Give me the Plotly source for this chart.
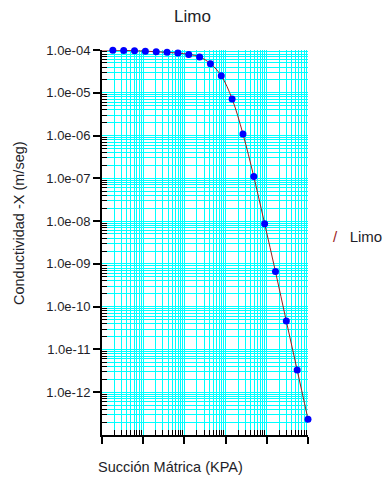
import plotly.graph_objects as go

# Data (suction in kPa, conductivity in m/s)
suction = [0.01, 0.01833, 0.0336, 0.06158, 0.1129, 0.2069, 0.3793, 0.6952,
           1.274, 2.336, 4.281, 7.848, 14.38, 26.37, 48.33, 88.59, 162.4,
           297.6, 545.6, 1000.0]
conductivity = [1.0e-4, 9.9e-5, 9.8e-5, 9.6e-5, 9.4e-5, 9.1e-5, 8.8e-5, 8.5e-5,
                7.9e-5, 6.9e-5, 4.8e-5, 2.5e-5, 7.2e-6, 1.09e-6, 1.10e-7,
                8.7e-9, 6.6e-10, 4.6e-11, 3.3e-12, 2.35e-13]
y_tick_vals = [1e-12, 1e-11, 1e-10, 1e-9, 1e-8, 1e-7, 1e-6, 1e-5, 1e-4]
y_tick_labels = ["1.0e-12", "1.0e-11", "1.0e-10", "1.0e-09", "1.0e-08",
                 "1.0e-07", "1.0e-06", "1.0e-05", "1.0e-04"]
x_tick_vals = [0.01, 0.1, 1, 10, 100, 1000]
series_name = "Limo"

FONT = "Liberation Sans, Arial, sans-serif"
GRID = "#00FFFF"
TXT = "#1e1e28"

x_minor = [m * 10 ** d for d in range(-2, 3) for m in range(2, 10)]
y_minor = [m * 10 ** d for d in range(-13, -4) for m in range(2, 10)]

fig = go.Figure()
fig.add_trace(go.Scatter(
    x=suction, y=conductivity, mode="lines+markers",
    line=dict(color="#9b1c1c", width=1, shape="spline"),
    marker=dict(color="#0000FF", size=7),
    cliponaxis=False, showlegend=False, name=series_name,
))

axis_common = dict(
    showline=True, linecolor="black", linewidth=2, mirror=False,
    ticks="outside", ticklen=7, tickwidth=2, tickcolor="black",
    showgrid=True, gridcolor=GRID, gridwidth=1, zeroline=False,
)

fig.update_xaxes(
    type="log", range=[-2, 3], tickmode="array", tickvals=x_tick_vals,
    showticklabels=False,
    minor=dict(tickmode="array", tickvals=x_minor, ticks="inside", ticklen=5,
               tickwidth=1, tickcolor="black", showgrid=True, gridcolor=GRID,
               gridwidth=1),
    **axis_common,
)
fig.update_yaxes(
    type="log", range=[-13, -4], tickmode="array", tickvals=y_tick_vals,
    ticktext=y_tick_labels, tickfont=dict(family=FONT, size=13, color=TXT),
    minor=dict(tickmode="array", tickvals=y_minor, ticks="inside", ticklen=5,
               tickwidth=1, tickcolor="black", showgrid=True, gridcolor=GRID,
               gridwidth=1),
    **axis_common,
)

fig.update_layout(
    width=385, height=479,
    margin=dict(l=102, r=77, t=50, b=44),
    paper_bgcolor="white", plot_bgcolor="white",
    title=dict(text=series_name, x=0.5, xanchor="center", y=1 - 16 / 479,
               yanchor="middle", yref="container",
               font=dict(family=FONT, size=17, color=TXT)),
    font=dict(family=FONT, size=13, color=TXT),
    annotations=[
        dict(text="Succión Mátrica (KPA)", xref="paper", yref="paper",
             x=(170 - 102) / 206, y=(435 - 467) / 385, showarrow=False,
             xanchor="center", yanchor="middle",
             font=dict(family=FONT, size=14.5, color=TXT)),
        dict(text="Conductividad -X (m/seg)", xref="paper", yref="paper",
             x=(19 - 102) / 206, y=(435 - 223) / 385, showarrow=False,
             textangle=-90, xanchor="center", yanchor="middle",
             font=dict(family=FONT, size=14.5, color=TXT)),
        dict(text="<span style='color:#9b1c1c'>/</span>   " + series_name,
             xref="paper", yref="paper",
             x=(331 - 102) / 206, y=(435 - 236) / 385, showarrow=False,
             xanchor="left", yanchor="middle",
             font=dict(family=FONT, size=15, color=TXT)),
    ],
)

fig.write_html("out.html")
